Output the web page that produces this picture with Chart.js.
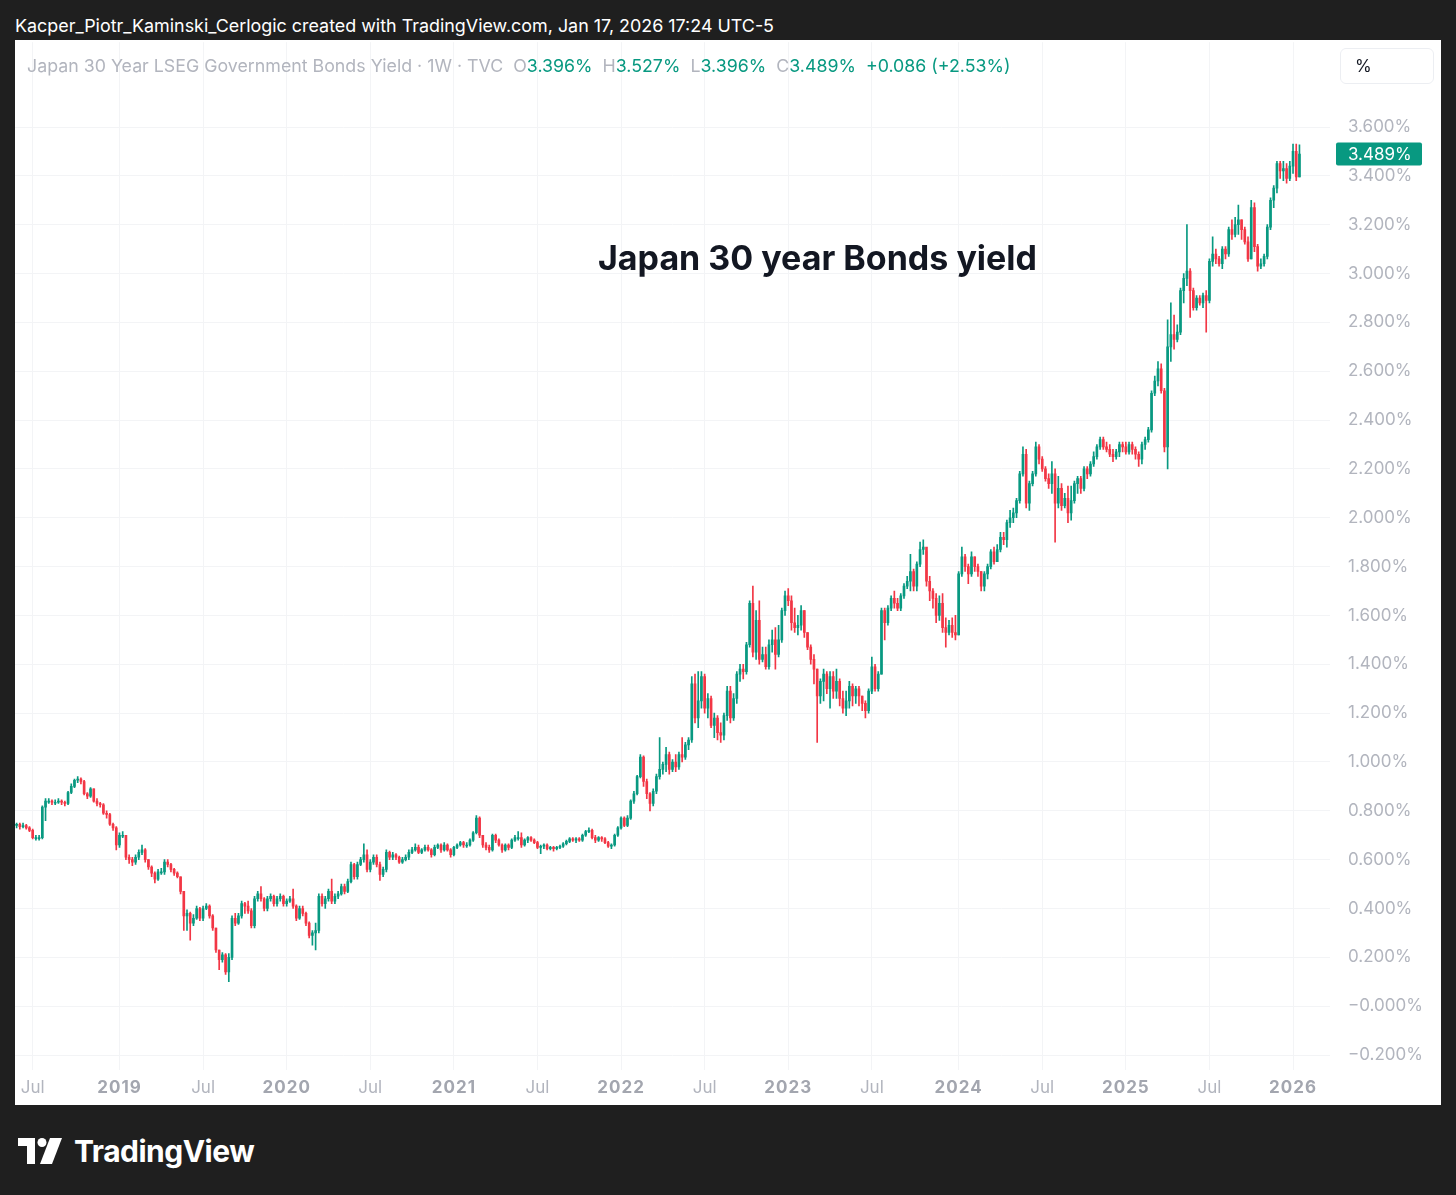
<!DOCTYPE html>
<html>
<head>
<meta charset="utf-8">
<title>Japan 30 Year Bonds Yield</title>
<script src="https://cdn.jsdelivr.net/npm/chart.js@4.4.1/dist/chart.umd.min.js"></script>
<style>
  body { margin: 0; background: #1f1f1f; width: 1456px; height: 1195px; position: relative; overflow: hidden; font-family: Inter, "Noto Sans", sans-serif; }
  #hdr { position: absolute; left: 15px; top: 15px; color: #fff; font-size: 17.9px; line-height: 22px; }
  #panel { position: absolute; left: 15px; top: 40px; width: 1426px; height: 1065px; background: #fff; overflow: hidden; }
  #yieldChart { position: absolute; left: 0; top: -26px; }
  #legend { position: absolute; left: 12px; top: 15px; font-size: 17.8px; line-height: 22px; color: #b2b5be; white-space: nowrap; }
  #legend .v { color: #089981; margin-right: 10px; }
  #pct { position: absolute; left: 1325px; top: 8px; width: 94px; height: 36px; border: 1px solid #eceef2; border-radius: 6px; box-sizing: border-box; font-size: 17px; line-height: 34px; padding-left: 14px; color: #131722; }
  #title { position: absolute; left: 583px; top: 197px; font-size: 34px; font-weight: bold; line-height: 42px; color: #131722; white-space: nowrap; }
  #logo { position: absolute; left: 18px; top: 1133px; color: #fff; display: flex; align-items: center; }
  #logo span { font-size: 30px; font-weight: bold; margin-left: 10px; letter-spacing: -0.5px; }
</style>
</head>
<body>
<div id="hdr">Kacper_Piotr_Kaminski_Cerlogic created with TradingView.com, Jan 17, 2026 17:24 UTC-5</div>
<div id="panel">
  <canvas id="yieldChart" width="1426" height="1091"></canvas>
  <div id="legend">Japan 30 Year LSEG Government Bonds Yield · 1W · TVC&nbsp; O<span class="v">3.396%</span>H<span class="v">3.527%</span>L<span class="v">3.396%</span>C<span class="v">3.489%</span><span class="v">+0.086 (+2.53%)</span></div>
  <div id="pct">%</div>
  <div id="title">Japan 30 year Bonds yield</div>
</div>
<div id="logo">
  <svg width="46" height="26" viewBox="0 0 46 26">
    <path d="M0 0 H17 V26 H9 V8 H0 Z" fill="#fff"/>
    <circle cx="24" cy="4.5" r="4.5" fill="#fff"/>
    <path d="M32 0 H44 L34 26 H22 Z" fill="#fff"/>
  </svg>
  <span>TradingView</span>
</div>

<script>
// weekly candles, first week starts Mon 2018-05-21
const startWeek = "2018-05-21";
const futureWeeks = 9;
const firstOpen = 0.74;

const closes = [
  0.745,0.735,0.74,0.73,0.72,0.69,0.69,0.69,0.815,0.84,
  0.84,0.835,0.835,0.84,0.835,0.83,0.875,0.90,0.925,0.93,
  0.92,0.87,0.86,0.89,0.84,0.83,0.825,0.79,0.785,0.745,
  0.73,0.66,0.70,0.70,0.61,0.60,0.59,0.61,0.63,0.64,
  0.60,0.57,0.545,0.52,0.55,0.55,0.59,0.58,0.56,0.545,
  0.53,0.47,0.37,0.38,0.34,0.36,0.40,0.36,0.40,0.41,
  0.37,0.32,0.23,0.19,0.21,0.14,0.20,0.36,0.34,0.37,
  0.42,0.41,0.39,0.33,0.44,0.46,0.44,0.40,0.44,0.45,
  0.42,0.44,0.45,0.42,0.43,0.44,0.41,0.36,0.40,0.38,
  0.34,0.29,0.30,0.31,0.45,0.42,0.44,0.47,0.43,0.45,
  0.46,0.49,0.47,0.51,0.58,0.53,0.58,0.60,0.62,0.56,
  0.59,0.61,0.58,0.54,0.56,0.63,0.61,0.62,0.61,0.59,
  0.60,0.61,0.63,0.64,0.65,0.63,0.64,0.65,0.64,0.62,
  0.65,0.66,0.64,0.66,0.64,0.62,0.65,0.66,0.67,0.66,
  0.66,0.68,0.71,0.77,0.70,0.66,0.65,0.64,0.70,0.68,
  0.66,0.64,0.66,0.65,0.68,0.69,0.69,0.66,0.68,0.69,
  0.68,0.67,0.65,0.655,0.66,0.645,0.65,0.645,0.65,0.655,
  0.665,0.675,0.685,0.68,0.685,0.68,0.70,0.715,0.72,0.69,
  0.68,0.69,0.685,0.67,0.655,0.66,0.70,0.73,0.77,0.74,
  0.77,0.84,0.87,0.94,1.02,0.92,0.87,0.83,0.88,0.94,
  0.97,0.99,1.03,0.97,1.00,0.98,1.03,1.02,1.07,1.09,
  1.32,1.18,1.25,1.35,1.22,1.26,1.15,1.18,1.12,1.11,
  1.19,1.29,1.18,1.26,1.36,1.38,1.37,1.48,1.65,1.45,
  1.58,1.42,1.44,1.39,1.48,1.50,1.44,1.50,1.62,1.68,
  1.66,1.57,1.55,1.56,1.62,1.53,1.47,1.42,1.38,1.27,
  1.33,1.36,1.30,1.35,1.29,1.33,1.26,1.22,1.25,1.31,
  1.27,1.30,1.27,1.24,1.21,1.29,1.39,1.30,1.36,1.62,
  1.57,1.63,1.67,1.65,1.63,1.68,1.72,1.74,1.78,1.72,
  1.81,1.87,1.88,1.74,1.70,1.67,1.60,1.65,1.55,1.53,
  1.56,1.53,1.52,1.77,1.84,1.80,1.77,1.84,1.80,1.78,
  1.72,1.77,1.80,1.86,1.82,1.87,1.92,1.91,1.98,2.00,
  2.02,2.07,2.18,2.26,2.06,2.14,2.18,2.29,2.24,2.20,
  2.16,2.14,2.18,2.06,2.12,2.05,2.08,2.02,2.07,2.14,
  2.16,2.12,2.20,2.18,2.22,2.25,2.29,2.32,2.29,2.28,
  2.26,2.25,2.27,2.30,2.29,2.27,2.30,2.28,2.26,2.24,
  2.30,2.32,2.36,2.51,2.56,2.61,2.52,2.29,2.70,2.75,
  2.73,2.76,2.93,2.98,3.01,2.93,2.86,2.90,2.88,2.91,
  2.89,3.05,3.08,3.06,3.04,3.10,3.08,3.18,3.16,3.20,
  3.22,3.18,3.13,3.06,3.27,3.11,3.03,3.04,3.07,3.19,
  3.30,3.35,3.45,3.42,3.43,3.39,3.44,3.50,3.396,3.489
];

const highs = [
  0.75,0.75,0.75,0.745,0.735,0.725,0.70,0.70,0.82,0.85,
  0.85,0.845,0.845,0.85,0.845,0.84,0.88,0.91,0.93,0.94,
  0.935,0.925,0.875,0.895,0.89,0.85,0.835,0.83,0.80,0.79,
  0.75,0.735,0.71,0.715,0.70,0.62,0.61,0.62,0.64,0.66,
  0.645,0.60,0.575,0.55,0.56,0.565,0.60,0.60,0.585,0.565,
  0.55,0.53,0.47,0.395,0.385,0.375,0.41,0.405,0.41,0.42,
  0.415,0.375,0.32,0.23,0.22,0.215,0.215,0.37,0.38,0.38,
  0.43,0.425,0.43,0.40,0.45,0.47,0.49,0.445,0.45,0.46,
  0.455,0.45,0.46,0.455,0.44,0.45,0.48,0.415,0.41,0.41,
  0.385,0.345,0.31,0.34,0.46,0.46,0.45,0.48,0.52,0.46,
  0.47,0.50,0.50,0.52,0.59,0.585,0.59,0.61,0.665,0.64,
  0.60,0.62,0.62,0.59,0.57,0.64,0.635,0.63,0.625,0.615,
  0.61,0.62,0.64,0.65,0.665,0.66,0.645,0.66,0.66,0.645,
  0.66,0.665,0.665,0.67,0.665,0.645,0.655,0.665,0.675,0.675,
  0.67,0.685,0.715,0.78,0.775,0.70,0.67,0.66,0.705,0.705,
  0.685,0.665,0.665,0.665,0.685,0.70,0.715,0.71,0.685,0.695,
  0.695,0.685,0.675,0.66,0.665,0.665,0.655,0.655,0.655,0.66,
  0.67,0.68,0.69,0.69,0.69,0.69,0.705,0.72,0.73,0.725,
  0.70,0.695,0.695,0.69,0.675,0.665,0.705,0.735,0.775,0.775,
  0.78,0.845,0.88,0.945,1.03,1.025,0.93,0.875,0.89,0.95,
  1.10,1.00,1.06,1.04,1.01,1.03,1.04,1.10,1.08,1.10,
  1.35,1.36,1.37,1.37,1.36,1.28,1.27,1.20,1.19,1.16,
  1.20,1.31,1.31,1.28,1.37,1.40,1.40,1.49,1.66,1.72,
  1.62,1.66,1.47,1.47,1.50,1.54,1.55,1.56,1.63,1.70,
  1.71,1.68,1.63,1.60,1.64,1.62,1.53,1.48,1.44,1.38,
  1.34,1.38,1.37,1.37,1.37,1.38,1.34,1.29,1.29,1.33,
  1.32,1.31,1.31,1.27,1.25,1.30,1.43,1.40,1.37,1.63,
  1.63,1.64,1.68,1.70,1.67,1.69,1.73,1.76,1.85,1.79,
  1.82,1.90,1.91,1.86,1.76,1.71,1.69,1.68,1.69,1.59,
  1.58,1.59,1.60,1.78,1.88,1.85,1.81,1.86,1.84,1.81,
  1.78,1.78,1.81,1.87,1.88,1.89,1.94,1.94,1.99,2.03,
  2.04,2.08,2.19,2.29,2.28,2.15,2.19,2.31,2.30,2.25,
  2.21,2.18,2.23,2.20,2.17,2.14,2.10,2.13,2.13,2.15,
  2.17,2.17,2.21,2.21,2.23,2.27,2.30,2.33,2.33,2.31,
  2.30,2.28,2.28,2.31,2.31,2.31,2.31,2.31,2.29,2.27,
  2.31,2.33,2.37,2.52,2.58,2.64,2.63,2.53,2.81,2.88,
  2.83,2.79,2.94,3.00,3.20,3.02,2.94,2.91,2.91,2.92,
  2.93,3.06,3.15,3.10,3.07,3.11,3.11,3.19,3.22,3.23,
  3.28,3.22,3.19,3.15,3.30,3.29,3.12,3.06,3.08,3.20,
  3.31,3.36,3.46,3.46,3.46,3.45,3.46,3.53,3.53,3.527
];

const lows = [
  0.73,0.725,0.73,0.725,0.715,0.685,0.68,0.68,0.685,0.76,
  0.83,0.825,0.825,0.83,0.825,0.82,0.825,0.87,0.895,0.915,
  0.91,0.865,0.85,0.855,0.835,0.82,0.815,0.785,0.77,0.74,
  0.72,0.64,0.65,0.69,0.60,0.585,0.575,0.58,0.60,0.62,
  0.59,0.56,0.53,0.505,0.515,0.54,0.54,0.57,0.55,0.535,
  0.525,0.46,0.31,0.31,0.27,0.33,0.355,0.35,0.35,0.395,
  0.36,0.31,0.22,0.15,0.18,0.13,0.10,0.19,0.33,0.335,
  0.36,0.38,0.38,0.32,0.32,0.43,0.43,0.39,0.39,0.43,
  0.41,0.41,0.43,0.41,0.41,0.425,0.40,0.35,0.355,0.37,
  0.33,0.28,0.25,0.23,0.30,0.41,0.40,0.43,0.42,0.42,
  0.44,0.455,0.46,0.465,0.505,0.52,0.52,0.575,0.59,0.55,
  0.55,0.58,0.57,0.515,0.53,0.55,0.60,0.60,0.60,0.585,
  0.585,0.595,0.60,0.625,0.635,0.625,0.625,0.635,0.635,0.61,
  0.615,0.645,0.63,0.635,0.635,0.61,0.615,0.645,0.655,0.65,
  0.65,0.655,0.675,0.705,0.69,0.65,0.64,0.63,0.635,0.67,
  0.655,0.63,0.635,0.64,0.645,0.675,0.68,0.65,0.655,0.67,
  0.675,0.665,0.645,0.625,0.645,0.64,0.64,0.635,0.64,0.645,
  0.65,0.66,0.67,0.675,0.67,0.675,0.675,0.695,0.71,0.685,
  0.67,0.675,0.675,0.665,0.65,0.645,0.655,0.695,0.725,0.735,
  0.735,0.765,0.83,0.865,0.935,0.90,0.85,0.80,0.82,0.87,
  0.93,0.95,0.96,0.95,0.96,0.96,0.97,1.00,1.01,1.05,
  1.08,1.16,1.14,1.22,1.20,1.18,1.14,1.10,1.09,1.08,
  1.09,1.17,1.16,1.17,1.24,1.33,1.34,1.36,1.47,1.43,
  1.42,1.40,1.41,1.38,1.38,1.45,1.38,1.43,1.49,1.60,
  1.64,1.54,1.53,1.52,1.54,1.51,1.46,1.40,1.32,1.08,
  1.24,1.25,1.28,1.22,1.26,1.26,1.23,1.20,1.19,1.22,
  1.23,1.24,1.23,1.21,1.18,1.20,1.28,1.29,1.29,1.36,
  1.50,1.56,1.62,1.63,1.62,1.62,1.67,1.71,1.70,1.70,
  1.70,1.80,1.85,1.72,1.66,1.63,1.57,1.58,1.53,1.47,
  1.52,1.51,1.50,1.52,1.76,1.78,1.73,1.76,1.78,1.76,
  1.70,1.70,1.75,1.79,1.81,1.82,1.86,1.89,1.88,1.96,
  1.98,2.00,2.06,2.17,2.04,2.03,2.13,2.17,2.22,2.19,
  2.15,2.12,2.10,1.90,2.04,2.03,2.04,1.98,1.99,2.06,
  2.10,2.10,2.11,2.16,2.17,2.21,2.24,2.28,2.28,2.27,
  2.25,2.23,2.24,2.25,2.27,2.26,2.26,2.26,2.24,2.21,
  2.22,2.28,2.31,2.35,2.50,2.54,2.51,2.27,2.20,2.64,
  2.69,2.72,2.75,2.88,2.95,2.82,2.85,2.85,2.87,2.86,
  2.76,2.88,3.03,3.04,3.03,3.02,3.06,3.07,3.14,3.15,
  3.16,3.14,3.12,3.05,3.06,3.09,3.01,3.02,3.03,3.06,
  3.18,3.27,3.33,3.39,3.38,3.37,3.38,3.41,3.38,3.396
];

const yTicks = [-0.2, 0, 0.2, 0.4, 0.6, 0.8, 1.0, 1.2, 1.4, 1.6, 1.8, 2.0, 2.2, 2.4, 2.6, 2.8, 3.0, 3.2, 3.4, 3.6];
const yTickLabels = ["\u22120.200%", "\u22120.000%", "0.200%", "0.400%", "0.600%", "0.800%", "1.000%", "1.200%", "1.400%", "1.600%",
  "1.800%", "2.000%", "2.200%", "2.400%", "2.600%", "2.800%", "3.000%", "3.200%", "3.400%", "3.600%"];
const lastPrice = 3.489;

const upColor = "#089981";
const downColor = "#f23645";
const fontFamily = "Inter, 'Noto Sans', sans-serif";

// week labels + the "Jul" / year marks on the time axis
let weeks = [];
let xTickText = [];
let d0 = new Date(startWeek + "T00:00:00Z");
for (let i = 0; i < closes.length + futureWeeks; i++) {
    let d = new Date(d0.getTime() + i * 7 * 86400000);
    let e = new Date(d.getTime() + 6 * 86400000);
    weeks.push(d.toISOString().slice(0, 10));
    let txt = null;
    if (e.getUTCDate() <= 7 && e.getUTCMonth() === 0) txt = String(e.getUTCFullYear());
    if (e.getUTCDate() <= 7 && e.getUTCMonth() === 6) txt = "Jul";
    xTickText.push(txt);
}

let opens = closes.map((c, i) => (i === 0 ? firstOpen : closes[i - 1]));
let candleColors = closes.map((c, i) => (c >= opens[i] ? upColor : downColor));
let bodies = closes.map((c, i) => [opens[i], c]);
let wicks = closes.map((c, i) => [lows[i], highs[i]]);

// last price tag on the right scale + time axis labels
let chartExtras = {
    id: "chartExtras",
    afterDraw: (chart) => {
        let ctx = chart.ctx;
        let area = chart.chartArea;
        ctx.save();

        let y = chart.scales.y.getPixelForValue(lastPrice);
        let x = area.right + 6;
        ctx.fillStyle = upColor;
        ctx.beginPath();
        ctx.roundRect(x, y - 11.5, 86, 23, 2);
        ctx.fill();
        ctx.fillStyle = "#ffffff";
        ctx.font = "17px " + fontFamily;
        ctx.textBaseline = "middle";
        ctx.textAlign = "left";
        ctx.fillText(lastPrice.toFixed(3) + "%", x + 12, y + 1);

        let xs = chart.scales.x;
        ctx.textAlign = "center";
        xTickText.forEach((t, i) => {
            if (!t) return;
            let isYear = t !== "Jul";
            ctx.font = (isYear ? "bold " : "") + "17px " + fontFamily;
            ctx.fillStyle = isYear ? "#a3a6af" : "#b2b5be";
            ctx.letterSpacing = isYear ? "1px" : "0px";
            ctx.fillText(t, xs.getPixelForValue(i), area.bottom + 18);
        });
        ctx.restore();
    },
};

var ctx = document.getElementById("yieldChart").getContext("2d");
var myChart = new Chart(ctx, {
    type: "bar",
    data: {
        labels: weeks,
        datasets: [
            {
                label: "body",
                data: bodies,
                backgroundColor: candleColors,
                barThickness: 2,
                minBarLength: 1,
                grouped: false,
            },
            {
                label: "wick",
                data: wicks,
                backgroundColor: candleColors,
                barThickness: 1,
                grouped: false,
            },
        ],
    },
    options: {
        responsive: false,
        animation: false,
        layout: { padding: 0 },
        plugins: {
            legend: { display: false },
            tooltip: { enabled: false },
        },
        scales: {
            x: {
                offset: true,
                border: { display: false },
                grid: { color: "#f3f4f6", offset: false, drawTicks: false },
                afterFit: (scale) => { scale.height = 35; },
                ticks: {
                    autoSkip: false,
                    maxRotation: 0,
                    color: "rgba(0,0,0,0)",
                    font: { size: 16, family: fontFamily },
                    callback: (value, index) => xTickText[index],
                },
            },
            y: {
                position: "right",
                min: -0.2613,
                max: 3.9473,
                border: { display: false },
                grid: { color: "#f3f4f6", drawTicks: false },
                afterFit: (scale) => { scale.width = 111; },
                afterBuildTicks: (scale) => {
                    scale.ticks = yTicks.map((v) => ({ value: v }));
                },
                ticks: {
                    padding: 18,
                    color: "#b2b5be",
                    font: { size: 17, family: fontFamily },
                    callback: (value, index) => yTickLabels[index],
                },
            },
        },
    },
    plugins: [chartExtras],
});
</script>
</body>
</html>
